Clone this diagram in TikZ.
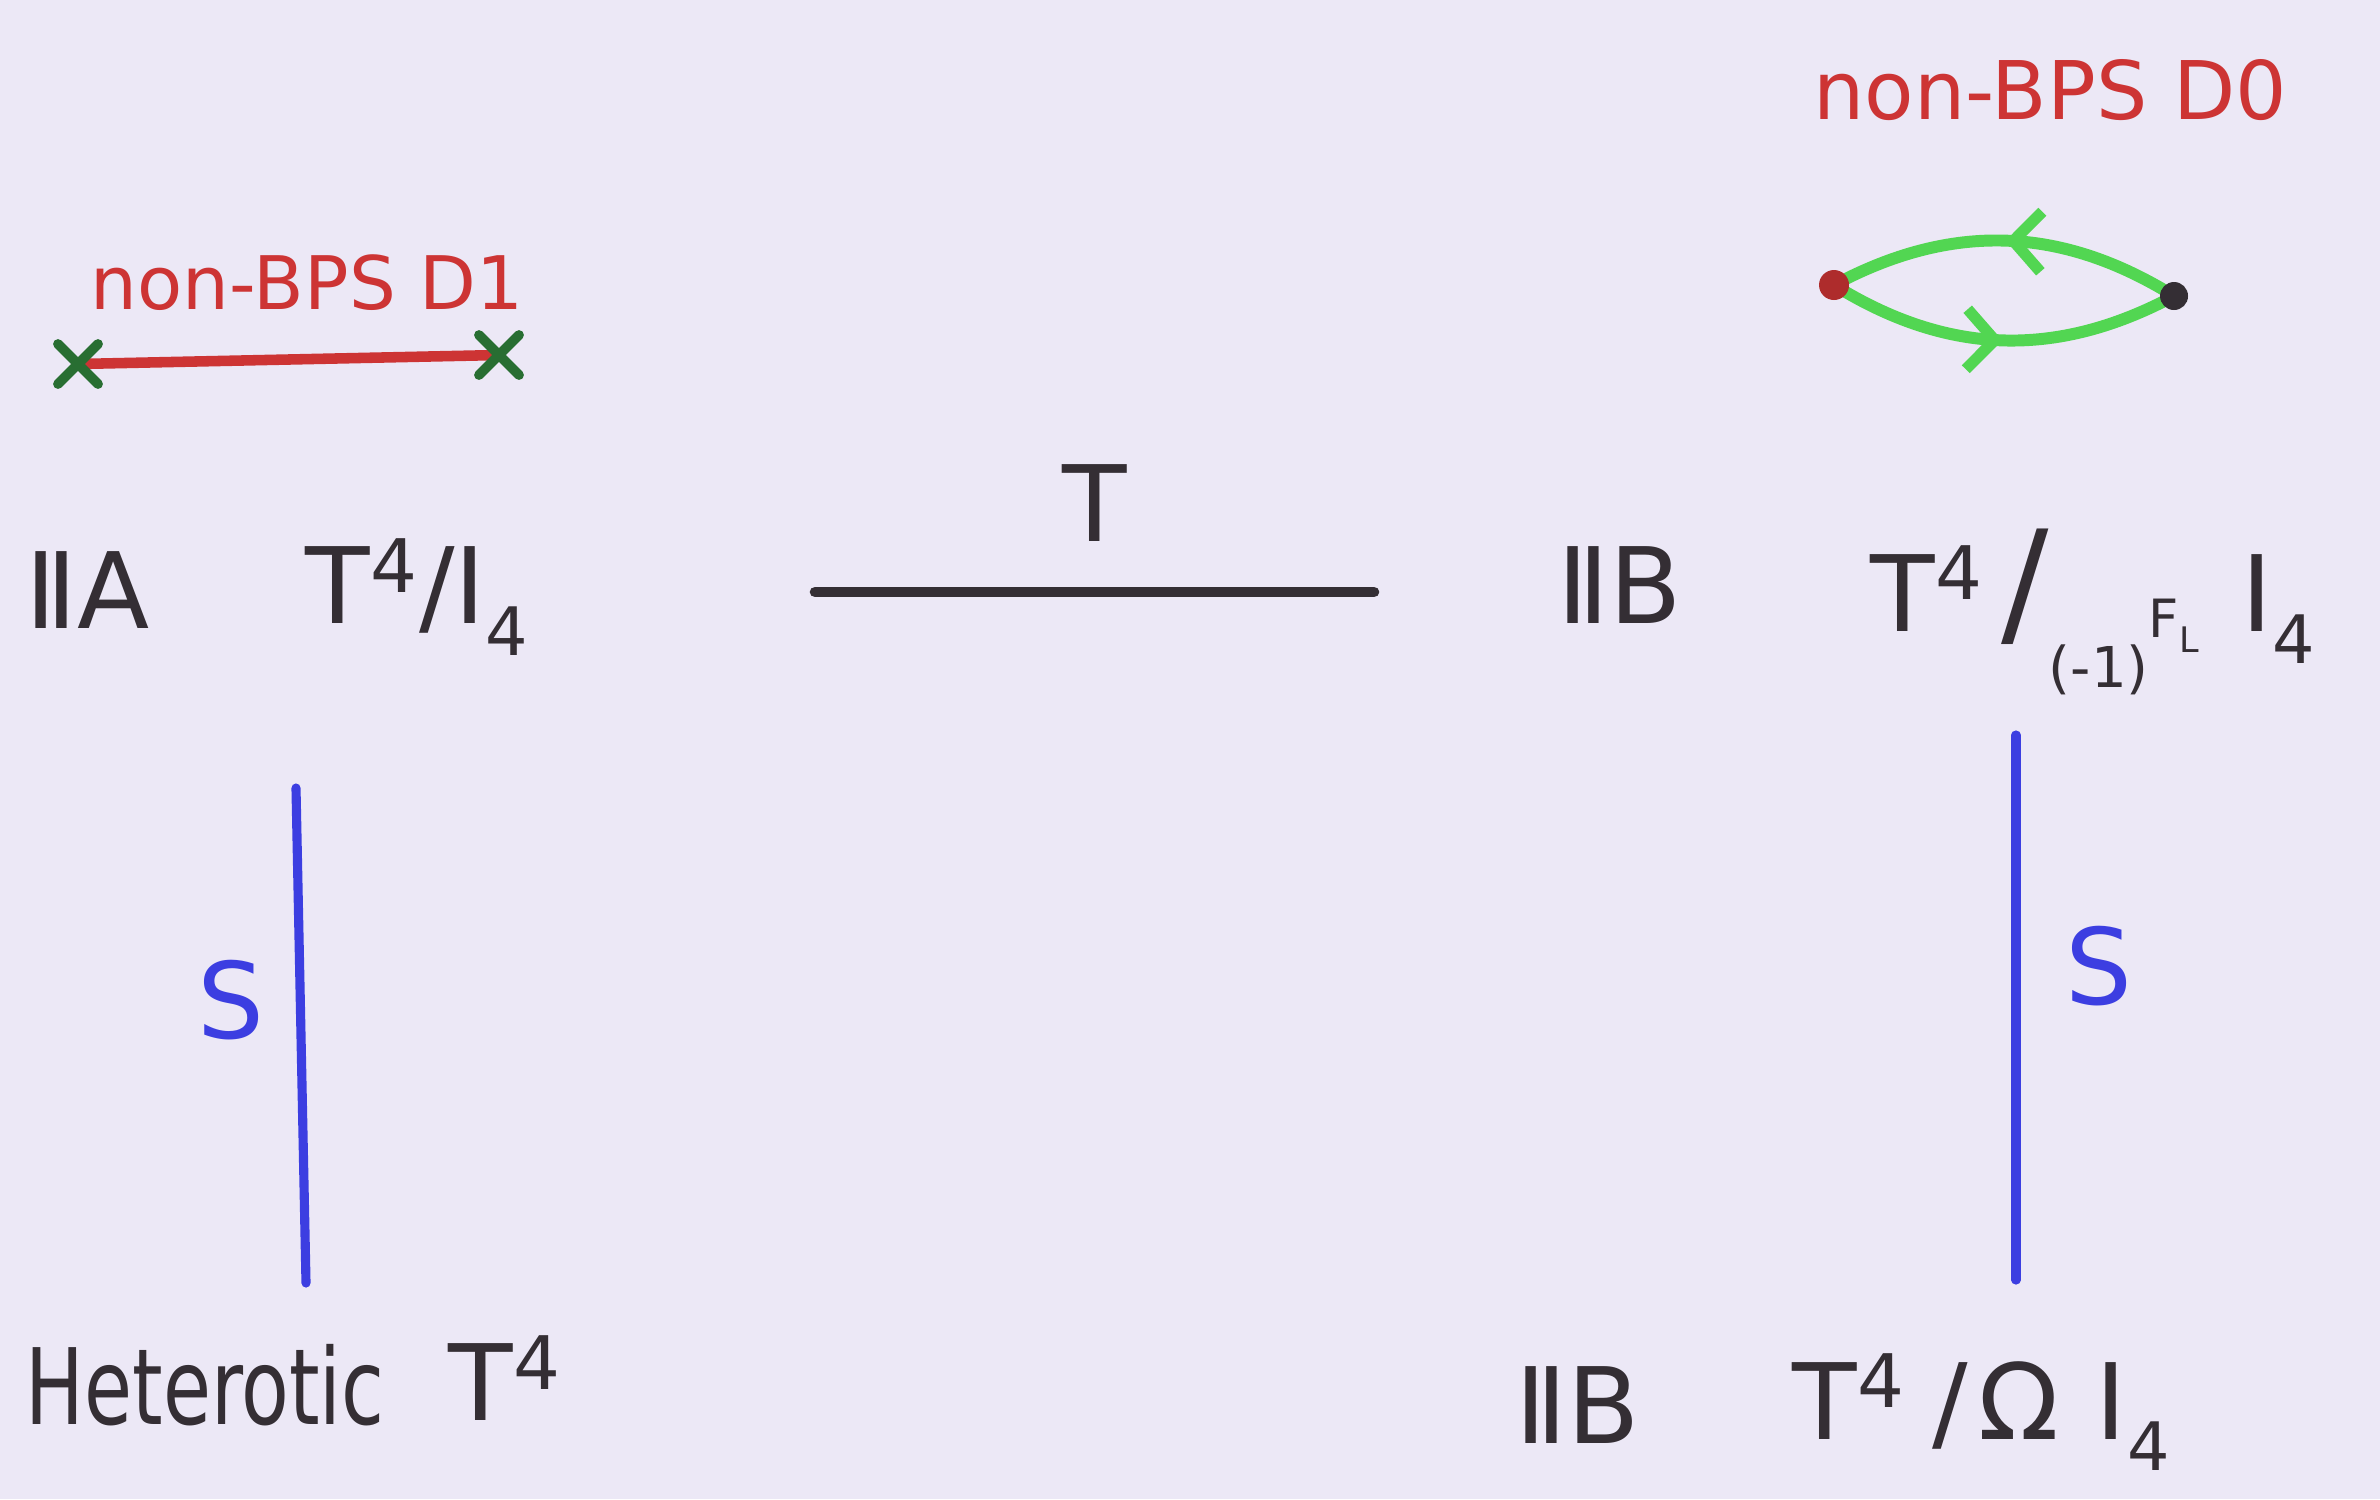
\documentclass[tikz,border=0pt]{standalone}
\usepackage{fontspec}
\setmainfont{DejaVu Sans}
\usetikzlibrary{arrows.meta,decorations.markings}
\definecolor{paper}{RGB}{236,232,246}
\definecolor{ink}{RGB}{52,46,52}
\definecolor{pred}{RGB}{205,52,52}
\definecolor{pgreen}{RGB}{82,214,82}
\definecolor{xgreen}{RGB}{40,110,50}
\definecolor{pblue}{RGB}{60,62,225}
\newcommand\up[1]{\textsuperscript{#1}}
\newcommand\dn[1]{\raisebox{-0.3em}{\fontsize{19}{19}\selectfont #1}}
\tikzset{
  lab/.style={text=ink, font=\fontsize{30}{36}\selectfont, inner sep=0pt},
  redlab/.style={text=pred, font=\fontsize{21}{25}\selectfont, inner sep=0pt},
  slab/.style={text=pblue, font=\fontsize{30}{36}\selectfont, inner sep=0pt},
  inkline/.style={draw=ink, line width=3pt, line cap=round},
  sline/.style={draw=pblue, line width=2.6pt, line cap=round},
  dline/.style={draw=pred, line width=3pt, line cap=round},
  xmark/.style={draw=xgreen, line width=2.8pt, line cap=round},
  gline/.style={draw=pgreen, line width=3.4pt, line cap=round,
    postaction={decorate}, decoration={markings,
      mark=at position 0.5 with {\arrow[pgreen, line width=3.2pt]{Straight Barb[length=0.28cm,width=0.6cm]}}}},
}
\begin{document}
\begin{tikzpicture}[x=0.01cm,y=-0.01cm]
\fill[paper] (0,0) rectangle (2380,1499);
\useasboundingbox (0,0) rectangle (2380,1499);

% non-BPS D1
\node[redlab] (d1lab) at (307,283) {non-BPS D1};
\coordinate (d1a) at (78,364);
\coordinate (d1b) at (499,355);
\draw[dline] (d1a) -- (d1b);
\draw[xmark] ([shift={(-20,-20)}]d1a) -- ([shift={(20,20)}]d1a)
             ([shift={(-20,20)}]d1a) -- ([shift={(20,-20)}]d1a);
\draw[xmark] ([shift={(-20,-20)}]d1b) -- ([shift={(20,20)}]d1b)
             ([shift={(-20,20)}]d1b) -- ([shift={(20,-20)}]d1b);

% non-BPS D0
\node[redlab, font=\fontsize{23}{27}\selectfont] (d0lab) at (2050,90) {non-BPS D0};
\coordinate (d0a) at (1834,285);
\coordinate (d0b) at (2174,296);
\draw[gline] (d0b) to[bend right=30] (d0a);
\draw[gline] (d0a) to[bend right=30] (d0b);
\fill[pred!85!black] (d0a) circle (15);
\fill[ink] (d0b) circle (14);

% top row
\node[lab] (iia) at (88,590) {ⅡA};
\node[lab] (t4i4) at (417,597) {T\up{4}/I\dn{4}};
\coordinate (ta) at (815,592);
\coordinate (tb) at (1374,592);
\draw[inkline] (ta) -- node[lab, above=13pt] (tlab) {T} (tb);
\node[lab] (iib) at (1620,585) {ⅡB};
\node[lab, anchor=west] (t4f) at (1870,612) {T\up{4}\,\fontsize{40}{40}\selectfont/\raisebox{-0.4em}{\fontsize{16}{16}\selectfont(-1)\raisebox{0.9em}{\fontsize{15}{15}\selectfont F\raisebox{-0.3em}{\fontsize{10}{10}\selectfont L}}}\hspace{0.3em}\fontsize{30}{36}\selectfont I\dn{4}};

% S lines
\coordinate (sla) at (296,788);
\coordinate (slb) at (306,1283);
\draw[sline] (sla) -- (slb);
\node[slab] (sl) at (231,1000) {S};
\coordinate (sra) at (2016,735);
\coordinate (srb) at (2016,1280);
\draw[sline] (sra) -- (srb);
\node[slab] (sr) at (2099,966) {S};

% bottom row
\node[lab, anchor=west] (het) at (25,1385) {\scalebox{0.74}[1]{Heterotic}};
\node[lab, anchor=west] (hett) at (448,1378) {T\up{4}};
\node[lab] (iib2) at (1578,1405) {ⅡB};
\node[lab, anchor=west] (t4o) at (1792,1412) {T\up{4}\hspace{0.25em}/\hspace{0.1em}Ω\hspace{0.35em}I\dn{4}};
\end{tikzpicture}
\end{document}
